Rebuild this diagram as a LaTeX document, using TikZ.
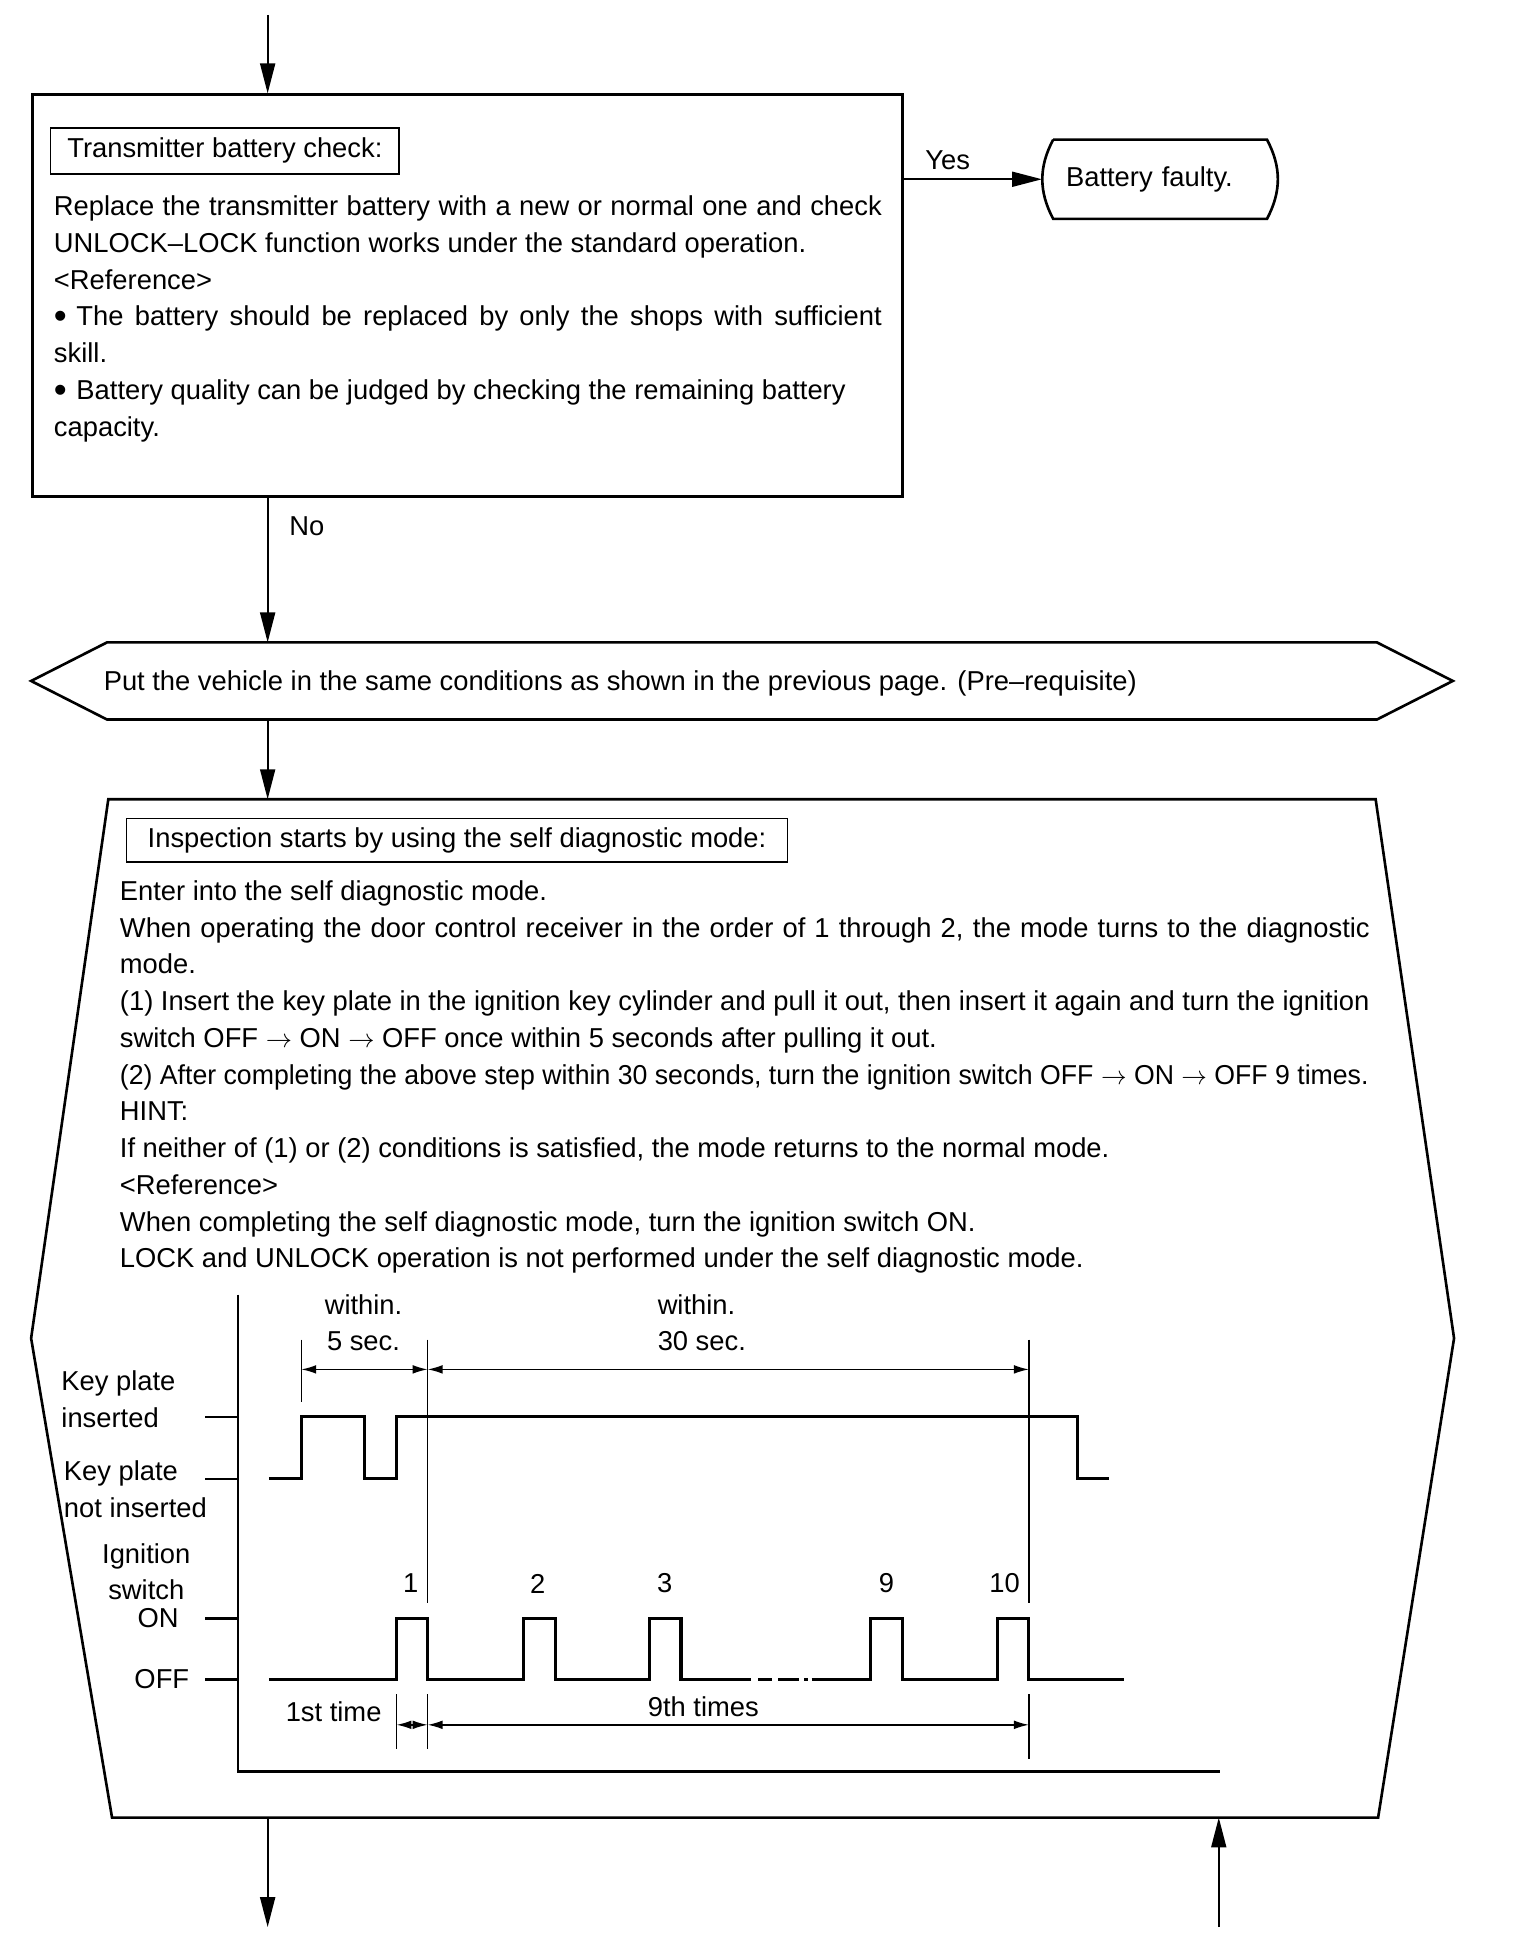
\documentclass[tikz,border=0pt]{standalone}
\usepackage{fontspec}
\usepackage{graphicx}
\setmainfont{Liberation Sans}
\usetikzlibrary{arrows.meta,positioning,calc}
\newcommand{\dotmark}{\raisebox{-0.1em}{\scalebox{1.35}{\textbullet}}\hspace{0.35em}}

\begin{document}
\begin{tikzpicture}[
    every node/.style={font=\fontsize{12.5}{16.8}\selectfont, inner sep=0pt},
    frame/.style={draw, line width=1.2pt},
    headbox/.style={draw, line width=0.7pt, anchor=north west, align=center},
    bodytext/.style={anchor=north west, align=left},
    flow/.style={-{Triangle[length=4.8mm,width=2.4mm]}, line width=0.9pt},
    span/.style={{Latex[length=2.4mm,width=1.4mm]}-{Latex[length=2.4mm,width=1.4mm]}, line width=0.7pt},
    trace/.style={line width=1.4pt},
    guide/.style={line width=0.6pt},
    axis/.style={line width=1.1pt},
  ]
  \useasboundingbox (0,0) rectangle (24.42,-31.36);

  % battery check
  \coordinate (entry) at (4.30,-0.24);
  \node[frame, anchor=north west, minimum width=13.98cm, minimum height=6.46cm] (check) at (0.50,-1.50) {};
  \draw[flow] (entry) -- (check.north -| entry);
  \node[headbox, minimum width=5.60cm, minimum height=0.74cm] (checkhead) at (0.80,-2.04) {Transmitter battery check:};
  \node[bodytext] (checkbody) at (0.86,-3.14) {\makebox[13.3cm][s]{Replace the transmitter battery with a new or normal one and check}\\
    UNLOCK--LOCK function works under the standard operation.\\
    <Reference>\\
    \makebox[13.3cm][s]{\dotmark The battery should be replaced by only the shops with sufficient}\\
    skill.\\
    \dotmark Battery quality can be judged by checking the remaining battery\\
    capacity.};

  \node[anchor=west, minimum height=1.26cm, text width=3.02cm, inner xsep=0.38cm, align=left] (faulty) at (16.74,-2.88) {Battery faulty.};
  \draw[frame] ([xshift=0.18cm]faulty.north west) -- ([xshift=-0.18cm]faulty.north east)
    to[bend left=28] ([xshift=-0.18cm]faulty.south east) -- ([xshift=0.18cm]faulty.south west)
    to[bend left=28] ([xshift=0.18cm]faulty.north west);
  \draw[flow] (check.east |- faulty.west) -- (faulty.west);
  \node[anchor=base west] (yes) at (14.86,-2.72) {Yes};

  % pre-requisite
  \node[anchor=base west] (prereq) at (1.66,-11.10) {Put the vehicle in the same conditions as shown in the previous page. (Pre--requisite)};
  \draw[frame] (0.50,-10.94) -- (1.72,-10.32) -- (22.12,-10.32) -- (23.34,-10.94) -- (22.12,-11.56) -- (1.72,-11.56) -- cycle;
  \coordinate (prereqN) at (4.30,-10.32);
  \coordinate (prereqS) at (4.30,-11.56);
  \draw[flow] (check.south -| entry) -- (prereqN);
  \node[anchor=base west] (no) at (4.64,-8.60) {No};

  % self diagnostic mode
  \draw[frame] (1.74,-12.84) -- (22.10,-12.84) -- (23.36,-21.50) -- (22.14,-29.20) -- (1.80,-29.20) -- (0.50,-21.50) -- cycle;
  \coordinate (diagN) at (4.30,-12.84);
  \coordinate (diagS) at (4.30,-29.20);
  \coordinate (diagR) at (19.58,-29.20);
  \draw[flow] (prereqS) -- (diagN);
  \node[headbox, minimum width=10.62cm, minimum height=0.70cm] (diaghead) at (2.02,-13.14) {Inspection starts by using the self diagnostic mode:};
  \node[bodytext] (diagbody) at (1.92,-14.14) {Enter into the self diagnostic mode.\\
    \makebox[20.08cm][s]{When operating the door control receiver in the order of 1 through 2, the mode turns to the diagnostic}\\
    mode.\\
    (1) Insert the key plate in the ignition key cylinder and pull it out, then insert it again and turn the ignition\\
    switch OFF $\rightarrow$ ON $\rightarrow$ OFF once within 5 seconds after pulling it out.\\
    \scalebox{0.975}[1]{(2) After completing the above step within 30 seconds, turn the ignition switch OFF $\rightarrow$ ON $\rightarrow$ OFF 9 times.}\\
    HINT:\\
    If neither of (1) or (2) conditions is satisfied, the mode returns to the normal mode.\\
    <Reference>\\
    When completing the self diagnostic mode, turn the ignition switch ON.\\
    LOCK and UNLOCK operation is not performed under the self diagnostic mode.};

  % timing chart
  \draw[axis] (3.82,-20.80) -- (3.82,-28.46) -- (19.60,-28.46);
  \foreach \lv in {-22.76,-23.76,-26.00,-26.98}
    \draw[axis] (3.30,\lv) -- (3.82,\lv);
  \node[anchor=west, align=left] (keyin) at (0.98,-22.48) {Key plate\\inserted};
  \node[anchor=west, align=left] (keyout) at (1.02,-23.93) {Key plate\\not inserted};
  \node[align=center] (ign) at (2.35,-25.25) {Ignition\\switch};
  \node (on) at (2.54,-26.00) {ON};
  \node (off) at (2.60,-26.98) {OFF};

  \draw[trace] (4.32,-23.76) -- (4.84,-23.76) |- (5.86,-22.76) |- (6.37,-23.76)
    |- (17.31,-22.76) |- (17.81,-23.76);
  \draw[trace] (4.32,-26.98) -- (6.37,-26.98) |- (6.87,-26.00) |- (8.41,-26.98)
    |- (8.92,-26.00) |- (10.43,-26.98) |- (10.94,-26.00) |- (12.00,-26.98);
  \draw[trace, dash pattern=on 0.06cm off 0.12cm on 0.22cm off 0.1cm on 0.34cm off 0.08cm] (12.00,-26.98) -- (13.04,-26.98);
  \draw[trace] (13.04,-26.98) -- (13.98,-26.98) |- (14.50,-26.00) |- (16.02,-26.98)
    |- (16.53,-26.00) |- (18.06,-26.98);

  \draw[guide] (4.84,-21.52) -- (4.84,-22.52);
  \draw[guide] (6.87,-21.52) -- (6.87,-25.76);
  \draw[guide] (16.53,-21.52) -- (16.53,-25.76);
  \draw[guide] (6.37,-27.22) -- (6.37,-28.10);
  \draw[guide] (6.87,-27.22) -- (6.87,-28.10);
  \draw[guide] (16.53,-27.22) -- (16.53,-28.26);

  \draw[span] (4.84,-22.00) -- (6.87,-22.00);
  \draw[span] (6.87,-22.00) -- (16.53,-22.00);
  \draw[span] (6.37,-27.71) -- (6.87,-27.71);
  \draw[span] (6.87,-27.71) -- (16.53,-27.71);

  \node (win5) at (5.84,-20.96) {within.};
  \node (sec5) at (5.84,-21.54) {5 sec.};
  \node[anchor=west] (win30) at (10.56,-20.96) {within.};
  \node[anchor=west] (sec30) at (10.56,-21.54) {30 sec.};
  \node (first) at (5.36,-27.50) {1st time};
  \node (ninth) at (11.30,-27.42) {9th times};
  \foreach \n/\x in {1/6.60, 2/8.64, 3/10.68, 9/14.24, 10/16.14}
    \node (num\n) at (\x,-25.44) {\n};

  % exits
  \coordinate (exit) at (4.30,-30.96);
  \coordinate (return) at (19.58,-30.96);
  \draw[flow] (diagS) -- (exit);
  \draw[flow] (return) -- (diagR);
\end{tikzpicture}
\end{document}
